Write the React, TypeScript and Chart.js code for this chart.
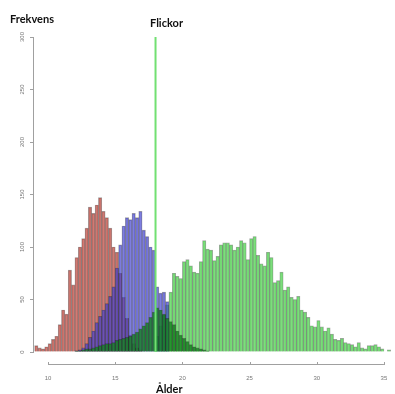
import { useEffect, useRef } from "react";
import { Chart, registerables } from "chart.js";

Chart.register(...registerables);

const BIN_WIDTH = 0.25;

const redStart = 9.0;
const redCounts = [6, 4, 3, 5, 8, 12, 15, 26, 40, 36, 78, 64, 90, 100, 108, 118, 138, 132, 140, 147, 134, 128, 118, 100, 95, 75, 52, 32, 16, 8, 4, 2];

const blueStart = 12.0;
const blueCounts = [1, 2, 4, 8, 14, 20, 28, 34, 40, 46, 53, 62, 80, 102, 120, 128, 126, 132, 128, 134, 116, 110, 100, 97, 62, 56, 57, 48];

const darkGreenStart = 12.0;
const darkGreenCounts = [1, 1, 2, 3, 3, 4, 5, 6, 7, 8, 8, 9, 11, 12, 13, 14, 15, 17, 19, 22, 25, 28, 33, 38, 42, 40, 36, 32, 29, 26, 20, 16, 13, 10, 7, 5, 4, 3, 2, 1];

const lightGreenStart = 18.0;
const lightGreenCounts = [15, 25, 35, 45, 57, 75, 72, 70, 86, 88, 82, 76, 75, 86, 106, 98, 97, 87, 91, 102, 104, 104, 102, 97, 100, 106, 104, 88, 108, 110, 92, 84, 82, 95, 90, 66, 68, 76, 59, 62, 52, 50, 53, 40, 38, 33, 25, 24, 30, 24, 20, 23, 17, 12, 11, 13, 9, 8, 7, 5, 9, 4, 3, 6, 6, 7, 5, 3, 0, 2];

const markerAge = 18;
const yTickValues = [0, 50, 100, 150, 200, 250, 300];
const xTickValues = [10, 15, 20, 25, 30, 35];

const chartTitle = "Flickor";
const yTitle = "Frekvens";
const xTitle = "Ålder";

function toPoints(start: number, counts: number[]) {
  return counts.map((c, i) => ({ x: start + BIN_WIDTH * (i + 0.5), y: c }));
}

const decorPlugin = {
  id: "decor",
  afterDraw(chart: any) {
    const { ctx, chartArea } = chart;
    const xs = chart.scales.x;
    const yLine = chartArea.bottom + 12;
    ctx.save();
    ctx.strokeStyle = "#a0a0a0";
    ctx.lineWidth = 1;
    ctx.beginPath();
    const x0 = xs.getPixelForValue(xTickValues[0]);
    const x1 = xs.getPixelForValue(xTickValues[xTickValues.length - 1]);
    ctx.moveTo(x0, yLine + 0.5);
    ctx.lineTo(x1, yLine + 0.5);
    xTickValues.forEach((v) => {
      const px = Math.round(xs.getPixelForValue(v)) + 0.5;
      ctx.moveTo(px, yLine - 2);
      ctx.lineTo(px, yLine + 1);
    });
    ctx.stroke();

    ctx.fillStyle = "#111";
    ctx.font = "bold 11px Lato, 'Liberation Sans', sans-serif";
    ctx.textBaseline = "middle";
    ctx.textAlign = "left";
    ctx.fillText(yTitle, 10, 19);
    ctx.fillText(chartTitle, 150, 23);
    ctx.fillText(xTitle, 156, 389);
    ctx.restore();
  },
};

export default function App() {
  const ref = useRef<HTMLCanvasElement | null>(null);
  useEffect(() => {
    if (!ref.current) return;
    const common = {
      barPercentage: 1,
      categoryPercentage: 1,
      grouped: false,
      borderWidth: 0.7,
      borderColor: "rgba(20,20,20,0.4)",
    };
    const chart = new Chart(ref.current, {
      type: "bar",
      data: {
        datasets: [
          {
            type: "line",
            data: [
              { x: markerAge, y: 0 },
              { x: markerAge, y: 300 },
            ],
            borderColor: "#72e072",
            borderWidth: 2,
            pointRadius: 0,
            order: 0,
          } as any,
          { ...common, data: toPoints(darkGreenStart, darkGreenCounts), backgroundColor: "rgba(20,130,30,0.8)", order: 2 },
          { ...common, data: toPoints(blueStart, blueCounts), backgroundColor: "rgba(65,65,210,0.68)", order: 4 },
          { ...common, data: toPoints(redStart, redCounts), backgroundColor: "rgba(185,60,50,0.68)", order: 5 },
          { ...common, data: toPoints(lightGreenStart, lightGreenCounts), backgroundColor: "rgba(90,215,90,0.8)", order: 6 },
        ] as any,
      },
      options: {
        responsive: false,
        animation: false,
        layout: { autoPadding: false, padding: { top: 37, right: 3, left: 0, bottom: 0 } },
        plugins: { legend: { display: false }, tooltip: { enabled: false } },
        scales: {
          x: {
            type: "linear",
            offset: false,
            min: 8.88,
            max: 35.6,
            afterBuildTicks: (s: any) => {
              s.ticks = xTickValues.map((v) => ({ value: v }));
            },
            afterFit: (s: any) => {
              s.height = 42;
              s.paddingLeft = 0;
              s.paddingRight = 0;
            },
            ticks: {
              autoSkip: false,
              maxRotation: 0,
              padding: 15,
              color: "#777",
              font: { size: 6, family: "'Liberation Sans', Arial, sans-serif" },
            },
            grid: { display: false, offset: false },
            border: { display: false },
          },
          y: {
            min: 0,
            max: 300,
            afterBuildTicks: (s: any) => {
              s.ticks = yTickValues.map((v) => ({ value: v }));
            },
            afterFit: (s: any) => {
              s.width = 33;
            },
            ticks: {
              minRotation: 90,
              maxRotation: 90,
              crossAlign: "center",
              padding: 3,
              color: "#777",
              font: { size: 6, family: "'Liberation Sans', Arial, sans-serif" },
            },
            grid: { drawOnChartArea: false, drawTicks: true, tickLength: 3, color: "#a0a0a0" },
            border: { display: true, color: "#a0a0a0" },
          },
        },
      } as any,
      plugins: [decorPlugin],
    });
    return () => chart.destroy();
  }, []);
  return (
    <div style={{ position: "fixed", left: 0, top: 0, width: 395, height: 394, background: "#fff" }}>
      <canvas ref={ref} width={395} height={394} />
    </div>
  );
}
